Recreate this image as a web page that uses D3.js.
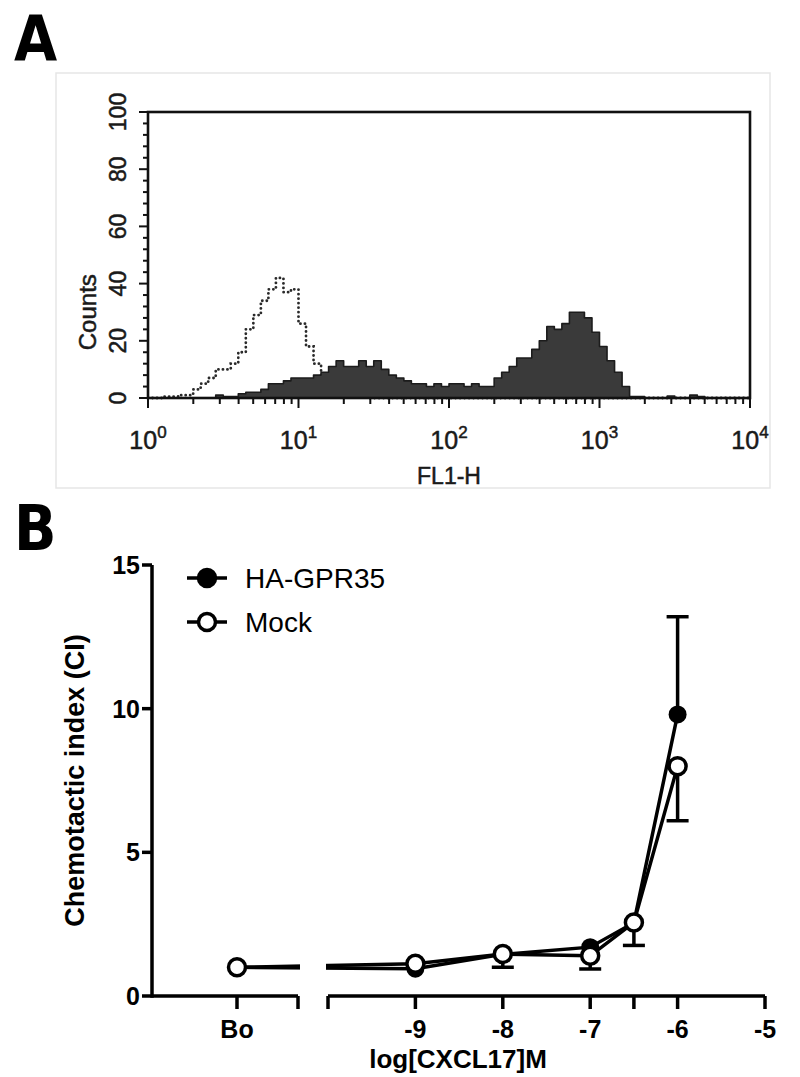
<!DOCTYPE html>
<html>
<head>
<meta charset="utf-8">
<script src="https://cdnjs.cloudflare.com/ajax/libs/d3/7.8.5/d3.min.js"></script>
<style>
  body { margin: 0; background: #fff; }
  svg { display: block; }
</style>
</head>
<body>
<div id="chart"></div>
<script>
// ---------- data ----------
// Panel A: FL1-H histogram, one count per bin of 0.05 log10 units (10^0 .. 10^4)
var binWidth = 0.05;
var sampleCounts = [
  0, 0, 0, 0, 0, 0, 0, 0, 0, 1,
  0.5, 0.5, 1.5, 2, 2, 3, 5, 5, 6, 7,
  7, 7, 8, 9, 11, 13, 11, 11, 13, 11,
  13, 10, 8, 7, 6, 5, 5, 4, 5, 4,
  5, 5, 4, 5, 4, 4, 7, 9, 11, 14,
  14, 17, 20, 25, 24, 26, 30, 30, 28, 23,
  18, 13, 9, 4, 0.5, 0.5, 0, 0, 0, 0.7,
  0, 0, 1, 0.5, 0, 0, 0, 0, 0, 0
];
var controlCounts = [
  0, 0, 0.5, 0.5, 1, 1, 3, 5, 7, 10,
  10, 12, 16, 24, 29, 34, 38, 42, 37, 38,
  26, 18, 12, 8, 5, 3, 2, 1, 0.5, 0,
  0, 0, 0, 0, 0, 0, 0, 0, 0, 0,
  0, 0, 0, 0, 0, 0, 0, 0, 0, 0,
  0, 0, 0, 0, 0, 0, 0, 0, 0, 0,
  0, 0, 0, 0, 0, 0, 0, 0, 0, 0,
  0, 0, 0, 0, 0, 0, 0, 0, 0, 0
];
var countTicks = [0, 20, 40, 60, 80, 100];
var decades = [0, 1, 2, 3, 4];

// Panel B: chemotactic index vs log[CXCL17]M
var doses = ["Bo", -9, -8, -7, -6.5, -6];
var haMean = [1.0, 0.95, 1.45, 1.7, 2.55, 9.8];
var haSem = [0.05, 0.05, 0.1, 0.1, 0.25, 3.4];     // drawn upward
var mockMean = [1.0, 1.12, 1.46, 1.4, 2.56, 8.0];
var mockSem = [0.05, 0.1, 0.46, 0.46, 0.8, 1.9];   // drawn downward
var ciTicks = [0, 5, 10, 15];
var doseTicks = [-10, -9, -8, -7, -6.5, -6, -5];
var doseLabels = [-9, -8, -7, -6, -5];

// ---------- setup ----------
var W = 800, H = 1077;
var fontA = "'Liberation Sans', Arial, sans-serif";
var fontB = "'Liberation Sans', Arial, sans-serif";
var fontPanel = "'Liberation Sans Narrow', 'DejaVu Sans Condensed', 'Liberation Sans', sans-serif";

var svg = d3.select("#chart").append("svg")
    .attr("width", W)
    .attr("height", H);

svg.append("text")
    .attr("x", 14).attr("y", 60)
    .attr("font-family", fontPanel)
    .attr("font-weight", "bold")
    .attr("font-size", 62)
    .text("A");

svg.append("text")
    .attr("x", 14).attr("y", 550)
    .attr("font-family", fontPanel)
    .attr("font-weight", "bold")
    .attr("font-size", 62)
    .text("B");

// ================= Panel A =================
var A = { left: 148, right: 750, top: 112, bottom: 398 };
var xA = d3.scaleLog().domain([1, 1e4]).range([A.left, A.right]);
var yA = d3.scaleLinear().domain([0, 100]).range([A.bottom, A.top]);

// faint image frame
svg.append("rect")
    .attr("x", 56).attr("y", 73)
    .attr("width", 714).attr("height", 415)
    .attr("fill", "none")
    .attr("stroke", "#e6e6e6")
    .attr("stroke-width", 1.5);

function histPoints(counts) {
    var pts = counts.map(function(c, i) { return { L: i * binWidth, c: c }; });
    pts.push({ L: counts.length * binWidth, c: counts[counts.length - 1] });
    return pts;
}

var gA = svg.append("g");

var controlLine = d3.line()
    .curve(d3.curveStepAfter)
    .x(function(d) { return xA(Math.pow(10, d.L)); })
    .y(function(d) { return yA(d.c); });

gA.append("path")
    .datum(histPoints(controlCounts))
    .attr("d", controlLine)
    .attr("fill", "none")
    .attr("stroke", "#2a2a2a")
    .attr("stroke-width", 2.8)
    .attr("stroke-linecap", "round")
    .attr("stroke-dasharray", "0.1,4.4");

var sampleArea = d3.area()
    .curve(d3.curveStepAfter)
    .x(function(d) { return xA(Math.pow(10, d.L)); })
    .y0(yA(0))
    .y1(function(d) { return yA(d.c); });

gA.append("path")
    .datum(histPoints(sampleCounts))
    .attr("d", sampleArea)
    .attr("fill", "#3a3a3a")
    .attr("stroke", "#1c1c1c")
    .attr("stroke-width", 1.6)
    .attr("stroke-linejoin", "round");

// box
gA.append("rect")
    .attr("x", A.left).attr("y", A.top)
    .attr("width", A.right - A.left).attr("height", A.bottom - A.top)
    .attr("fill", "none")
    .attr("stroke", "#111")
    .attr("stroke-width", 2.6);

// y ticks (minor every 4 counts)
gA.selectAll(".ytick")
    .data(d3.range(0, 101, 4))
    .enter().append("line")
    .attr("x1", function(d) { return A.left - (d % 20 === 0 ? 9 : 5); })
    .attr("x2", A.left)
    .attr("y1", function(d) { return yA(d); })
    .attr("y2", function(d) { return yA(d); })
    .attr("stroke", "#111")
    .attr("stroke-width", 2);

gA.selectAll(".ylab")
    .data(countTicks)
    .enter().append("text")
    .attr("transform", function(d) { return "translate(" + 126 + "," + yA(d) + ") rotate(-90)"; })
    .attr("text-anchor", "middle")
    .attr("font-family", fontA)
    .attr("font-size", 23)
    .attr("fill", "#1a1a1a")
    .attr("stroke", "#1a1a1a")
    .attr("stroke-width", 0.5)
    .text(function(d) { return d; });

gA.append("text")
    .attr("transform", "translate(" + 96 + "," + yA(30) + ") rotate(-90)")
    .attr("text-anchor", "middle")
    .attr("font-family", fontA)
    .attr("font-size", 24)
    .attr("fill", "#1a1a1a")
    .attr("stroke", "#1a1a1a")
    .attr("stroke-width", 0.5)
    .text("Counts");

// x ticks (log)
gA.selectAll(".xtick")
    .data(xA.ticks())
    .enter().append("line")
    .attr("x1", function(d) { return xA(d); })
    .attr("x2", function(d) { return xA(d); })
    .attr("y1", A.bottom)
    .attr("y2", function(d) {
        var l = Math.log10(d);
        return A.bottom + (Math.abs(l - Math.round(l)) < 1e-6 ? 10 : 6);
    })
    .attr("stroke", "#111")
    .attr("stroke-width", 2);

var xlab = gA.selectAll(".xlab")
    .data(decades)
    .enter().append("text")
    .attr("x", function(d) { return xA(Math.pow(10, d)); })
    .attr("y", 449)
    .attr("text-anchor", "middle")
    .attr("font-family", fontA)
    .attr("font-size", 25)
    .attr("fill", "#1a1a1a")
    .attr("stroke", "#1a1a1a")
    .attr("stroke-width", 0.5);
xlab.append("tspan").text("10");
xlab.append("tspan")
    .attr("dy", -11)
    .attr("font-size", 17)
    .text(function(d) { return d; });

gA.append("text")
    .attr("x", (A.left + A.right) / 2)
    .attr("y", 484)
    .attr("text-anchor", "middle")
    .attr("font-family", fontA)
    .attr("font-size", 23)
    .attr("fill", "#1a1a1a")
    .attr("stroke", "#1a1a1a")
    .attr("stroke-width", 0.5)
    .text("FL1-H");

// ================= Panel B =================
var B = { left: 152, breakEnd: 298, right: 765, top: 565, bottom: 996 };
var yB = d3.scaleLinear().domain([0, 15]).range([B.bottom, B.top]);
var xB = d3.scaleLinear().domain([-10, -5]).range([328, B.right]);
var xBo = d3.scalePoint().domain(["Bo"]).range([B.left, 322]);
function xPos(d) { return d === "Bo" ? xBo(d) : xB(d); }

var gB = svg.append("g");
var R = 9, SW = 3.5, CAP = 11;

function series(means) {
    return doses.map(function(d, i) { return { x: xPos(d), y: means[i] }; });
}
var lineB = d3.line()
    .x(function(d) { return d.x; })
    .y(function(d) { return yB(d.y); });

gB.append("path").datum(series(haMean)).attr("d", lineB)
    .attr("fill", "none").attr("stroke", "#000").attr("stroke-width", SW);
gB.append("path").datum(series(mockMean)).attr("d", lineB)
    .attr("fill", "none").attr("stroke", "#000").attr("stroke-width", SW);

// axis break blanks the connecting line
gB.append("rect")
    .attr("x", B.breakEnd + 2).attr("y", B.top)
    .attr("width", xB(-10) - B.breakEnd - 4).attr("height", B.bottom - B.top - 3)
    .attr("fill", "#fff");

// error bars (hidden when shorter than the symbol)
function errorBars(means, sems, dir) {
    doses.forEach(function(d, i) {
        var x = xPos(d), y0 = yB(means[i]), y1 = yB(means[i] + dir * sems[i]);
        if (Math.abs(y1 - y0) <= R + 2) return;
        gB.append("line").attr("x1", x).attr("x2", x).attr("y1", y0).attr("y2", y1)
            .attr("stroke", "#000").attr("stroke-width", SW);
        gB.append("line").attr("x1", x - CAP).attr("x2", x + CAP).attr("y1", y1).attr("y2", y1)
            .attr("stroke", "#000").attr("stroke-width", SW);
    });
}
errorBars(haMean, haSem, 1);
errorBars(mockMean, mockSem, -1);

gB.selectAll(".ha")
    .data(series(haMean))
    .enter().append("circle")
    .attr("cx", function(d) { return d.x; })
    .attr("cy", function(d) { return yB(d.y); })
    .attr("r", R)
    .attr("fill", "#000");

gB.selectAll(".mock")
    .data(series(mockMean))
    .enter().append("circle")
    .attr("cx", function(d) { return d.x; })
    .attr("cy", function(d) { return yB(d.y); })
    .attr("r", R - 0.5)
    .attr("fill", "#fff")
    .attr("stroke", "#000")
    .attr("stroke-width", SW);

// y axis
gB.append("line")
    .attr("x1", B.left).attr("x2", B.left)
    .attr("y1", yB(0) + SW / 2).attr("y2", yB(15))
    .attr("stroke", "#000").attr("stroke-width", SW);
gB.selectAll(".ytickB")
    .data(ciTicks)
    .enter().append("line")
    .attr("x1", B.left - 10).attr("x2", B.left)
    .attr("y1", function(d) { return yB(d); })
    .attr("y2", function(d) { return yB(d); })
    .attr("stroke", "#000").attr("stroke-width", SW);
gB.selectAll(".ylabB")
    .data(ciTicks)
    .enter().append("text")
    .attr("x", B.left - 12)
    .attr("y", function(d) { return yB(d); })
    .attr("dy", "0.36em")
    .attr("text-anchor", "end")
    .attr("font-family", fontB)
    .attr("font-weight", "bold")
    .attr("font-size", 25)
    .text(function(d) { return d; });

gB.append("text")
    .attr("transform", "translate(" + 84 + "," + (yB(0) + yB(15)) / 2 + ") rotate(-90)")
    .attr("text-anchor", "middle")
    .attr("font-family", fontB)
    .attr("font-weight", "bold")
    .attr("font-size", 27)
    .text("Chemotactic index (CI)");

// x axis: left segment with Bo, right segment with log doses
gB.append("line")
    .attr("x1", B.left).attr("x2", B.breakEnd)
    .attr("y1", yB(0)).attr("y2", yB(0))
    .attr("stroke", "#000").attr("stroke-width", SW);
gB.append("line")
    .attr("x1", xB(-10)).attr("x2", xB(-5))
    .attr("y1", yB(0)).attr("y2", yB(0))
    .attr("stroke", "#000").attr("stroke-width", SW);

var xTickPos = [xBo("Bo"), B.breakEnd].concat(doseTicks.map(function(d) { return xB(d); }));
gB.selectAll(".xtickB")
    .data(xTickPos)
    .enter().append("line")
    .attr("x1", function(d) { return d; })
    .attr("x2", function(d) { return d; })
    .attr("y1", yB(0)).attr("y2", yB(0) + 13)
    .attr("stroke", "#000").attr("stroke-width", SW);

gB.selectAll(".xlabB")
    .data(["Bo"].concat(doseLabels))
    .enter().append("text")
    .attr("x", function(d) { return xPos(d); })
    .attr("y", yB(0) + 42)
    .attr("text-anchor", "middle")
    .attr("font-family", fontB)
    .attr("font-weight", "bold")
    .attr("font-size", 25)
    .text(function(d) { return d; });

gB.append("text")
    .attr("x", 458)
    .attr("y", 1068)
    .attr("text-anchor", "middle")
    .attr("font-family", fontB)
    .attr("font-weight", "bold")
    .attr("font-size", 26)
    .text("log[CXCL17]M");

// legend
var legendRows = [
    { label: "HA-GPR35", fill: "#000" },
    { label: "Mock", fill: "#fff" }
];
var legend = gB.selectAll(".legendRow")
    .data(legendRows)
    .enter().append("g")
    .attr("transform", function(d, i) { return "translate(" + 187 + "," + (578 + i * 44) + ")"; });
legend.append("line")
    .attr("x1", 0).attr("x2", 40)
    .attr("stroke", "#000").attr("stroke-width", SW);
legend.append("circle")
    .attr("cx", 20).attr("r", R - 0.5)
    .attr("fill", function(d) { return d.fill; })
    .attr("stroke", "#000").attr("stroke-width", SW);
legend.append("text")
    .attr("x", 58)
    .attr("dy", "0.36em")
    .attr("font-family", fontB)
    .attr("font-size", 28)
    .text(function(d) { return d.label; });
</script>
</body>
</html>
